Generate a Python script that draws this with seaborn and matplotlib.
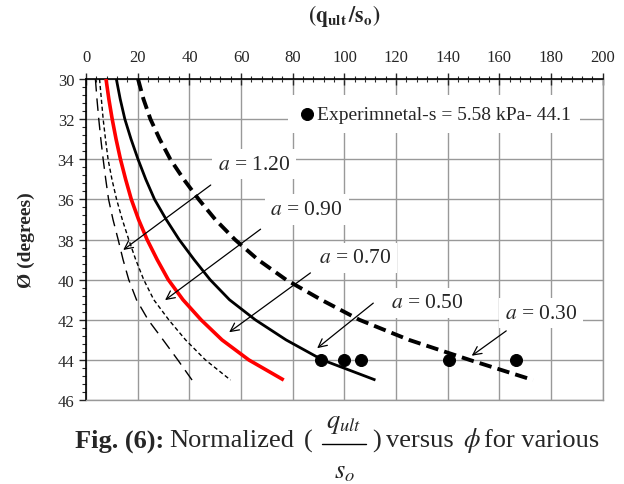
import numpy as np
import pandas as pd
import matplotlib
matplotlib.use("Agg")
import matplotlib.pyplot as plt
import seaborn as sns
from matplotlib.ticker import MultipleLocator
from matplotlib.lines import Line2D

sns.set_style("white")
plt.rcParams['font.family'] = ['Liberation Serif', 'DejaVu Serif']
plt.rcParams['mathtext.fontset'] = 'stix'

# ---- data ----
phi = [30, 31, 32, 33, 34, 35, 36, 37, 38, 39, 40, 41, 42, 43, 44, 45]
q_a120 = [3.6, 4.2, 4.9, 5.7, 6.6, 7.6, 8.7, 10.4, 12.4, 14.3, 16.5, 19.5, 24.0, 29.8, 35.5, 41.0]
q_a090 = [5.2, 5.9, 6.6, 7.5, 8.5, 10.0, 11.8, 14.0, 16.5, 19.2, 22.3, 26.2, 32.0, 38.5, 46.2, 55.9]
q_a070 = [7.7, 8.8, 10.1, 11.6, 13.3, 15.3, 17.5, 20.3, 23.6, 27.5, 31.8, 37.5, 44.5, 52.6, 63.0, 76.5]
q_a050 = [11.7, 13.2, 15.0, 17.4, 20.1, 23.1, 26.5, 31.0, 36.0, 41.8, 48.0, 55.5, 65.5, 77.4, 91.5, 112.0]
q_a030 = [20.1, 22.2, 24.9, 28.5, 32.6, 37.8, 43.6, 50.0, 57.6, 66.5, 77.4, 91.0, 105.8, 125.0, 148.5, 173.0]

exp_q = [91.0, 99.7, 106.5, 140.4, 166.5]
exp_phi = [44, 44, 44, 44, 44]
exp_label = "Experimnetal-s = 5.58 kPa- 44.1"

labels = ["1.20", "0.90", "0.70", "0.50", "0.30"]
# annotation anchors (text position, arrow tail, arrow head) in data units
text_pos = [(64.9, 34.25), (85.4, 36.5), (104.3, 38.9), (131.9, 41.15), (176.1, 41.67)]
arrow_tail = [(49.1, 35.2), (68.4, 37.4), (87.7, 39.58), (112.0, 41.08), (163.5, 42.47)]
arrow_head = [(13.5, 38.6), (29.7, 41.1), (54.5, 42.7), (88.6, 43.5), (148.4, 43.87)]

W, H = 624, 485
fig = plt.figure(figsize=(W / 100, H / 100), dpi=100)
ax = fig.add_axes([0.138, 0.173, 0.828, 0.662])

styles = [
    dict(color='black', lw=1.0, dashes=(9, 5)),
    dict(color='black', lw=1.0, dashes=(3, 2)),
    dict(color='#ff0000', lw=2.6),
    dict(color='black', lw=2.0),
    dict(color='black', lw=2.8, dashes=(3.2, 1.6)),
]
series = [q_a120, q_a090, q_a070, q_a050, q_a030]
for qs, st in zip(series, styles):
    df = pd.DataFrame({"q": qs, "phi": phi})
    sns.lineplot(data=df, x="q", y="phi", sort=False, estimator=None,
                 ax=ax, color=st['color'], lw=st['lw'], zorder=3)
    line = ax.lines[-1]
    line.set_solid_capstyle('butt')
    if 'dashes' in st:
        line.set_dashes(st['dashes'])

dfe = pd.DataFrame({"q": exp_q, "phi": exp_phi})
sns.scatterplot(data=dfe, x="q", y="phi", ax=ax, color='black', s=75,
                edgecolor='black', zorder=4, label=exp_label)

ax.set_xlim(0, 200)
ax.set_ylim(46, 30)
ax.xaxis.set_major_locator(MultipleLocator(20))
ax.xaxis.set_minor_locator(MultipleLocator(4))
ax.yaxis.set_major_locator(MultipleLocator(2))
ax.yaxis.set_minor_locator(MultipleLocator(0.4))
ax.xaxis.tick_top()
ax.xaxis.set_label_position('top')
ax.tick_params(axis='x', which='major', direction='inout', length=8, width=1,
               labelsize=12, pad=6, top=True, bottom=False)
ax.tick_params(axis='x', which='minor', direction='inout', length=5, width=0.8,
               top=True, bottom=False)
ax.tick_params(axis='y', which='major', direction='out', length=5, width=1,
               labelsize=12, left=True)
ax.tick_params(axis='y', which='minor', direction='out', length=3, width=0.8,
               left=True)
ax.grid(True, which='major', color='#999999', lw=1.0, zorder=0)
ax.set_axisbelow(True)
for s in ['left', 'top']:
    ax.spines[s].set_color('black')
    ax.spines[s].set_linewidth(1.2)
for s in ['right', 'bottom']:
    ax.spines[s].set_color('#999999')
    ax.spines[s].set_linewidth(1.0)

ax.set_xlabel(r"$\mathbf{(q_{ult}\,/s_{o})}$", fontsize=15.5, labelpad=20)
ax.set_ylabel("Ø (degrees)", fontsize=14, fontweight='bold', labelpad=16)

for lab, tp, tt, hh in zip(labels, text_pos, arrow_tail, arrow_head):
    ax.annotate("", xy=hh, xytext=tt,
                arrowprops=dict(arrowstyle='->,head_length=0.6,head_width=0.3',
                                color='black', lw=0.9), zorder=5)
    ax.text(tp[0], tp[1], r"$a$ = " + lab, fontsize=15.5, ha='center', va='center',
            bbox=dict(facecolor='white', edgecolor='none', pad=4), zorder=6)

leg = ax.legend(loc='center left', bbox_to_anchor=(0.39, 0.891), frameon=True,
                fontsize=14, handletextpad=0.0, borderpad=0.5, handlelength=1.0,
                borderaxespad=0.0)
leg.get_frame().set_facecolor('white')
leg.get_frame().set_edgecolor('none')
leg.get_frame().set_alpha(1)
leg.set_zorder(7)

# ---- caption, pieces placed at pixel positions ----
cy = 1 - 441 / H
fs = 19


def cap(xpx, s, y=cy, ha='left', **kw):
    fig.text(xpx / W, y, s, ha=ha, va='center', fontsize=kw.pop('fontsize', fs), **kw)


cap(75, "Fig. (6):", fontweight='bold')
cap(169, "Normalized")
cap(304, "(")
cap(326, r"$q_{ult}$", y=1 - 425 / H, fontsize=19)
fig.add_artist(Line2D([322 / W, 366 / W], [1 - 445 / H, 1 - 445 / H],
                      color='black', lw=1.0, transform=fig.transFigure))
cap(344, r"$s_o$", y=1 - 473 / H, ha='center', fontsize=19)
cap(372, ")")
cap(386, "versus")
cap(463, r"$\phi$")
cap(484, "for various")

fig.savefig("out.png", dpi=100)
